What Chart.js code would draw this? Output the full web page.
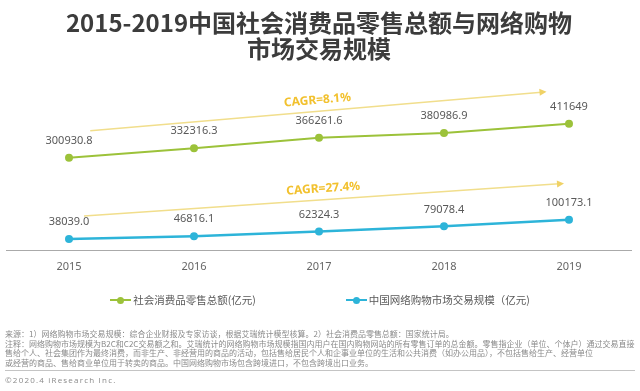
<!DOCTYPE html>
<html>
<head>
<meta charset="utf-8">
<script src="https://cdn.jsdelivr.net/npm/chart.js@4.4.1/dist/chart.umd.min.js"></script>
<style>
  body { margin: 0; background: #fff; font-family: "Noto Sans CJK SC", sans-serif; }
  #wrap { position: relative; width: 640px; height: 391px; overflow: hidden; }
  #wrap canvas { position: absolute; left: 0; top: 0; }
  #legend { position: absolute; left: 0; top: 292px; width: 640px; display: flex; justify-content: center; gap: 90px; font-size: 10.5px; line-height: 16px; color: #595959; }
  #legend .item { display: flex; align-items: center; white-space: nowrap; }
  #legend .mk { position: relative; display: inline-block; width: 21px; height: 2px; margin-right: 2px; }
  #legend .mk::after { content: ""; position: absolute; left: 7px; top: -2.5px; width: 7px; height: 7px; border-radius: 50%; background: inherit; }
  #notes { position: absolute; left: 5px; top: 329.3px; font-size: 8px; line-height: 9.4px; color: #8a8a8a; white-space: nowrap; }
  #rule { position: absolute; left: 5px; top: 370px; width: 630px; border-top: 1px solid #c4c4c4; }
  #copy { position: absolute; left: 5px; top: 374px; font-size: 8px; line-height: 11px; letter-spacing: 1.2px; color: #8a8a8a; font-family: "Open Sans", sans-serif; }
</style>
</head>
<body>
<div id="wrap">
  <canvas id="chart" width="640" height="391"></canvas>
  <div id="legend"></div>
  <div id="notes">
    <div>来源：1）网络购物市场交易规模：综合企业财报及专家访谈，根据艾瑞统计模型核算。2）社会消费品零售总额：国家统计局。</div>
    <div>注释：网络购物市场规模为B2C和C2C交易额之和。艾瑞统计的网络购物市场规模指国内用户在国内购物网站的所有零售订单的总金额。零售指企业（单位、个体户）通过交易直接</div>
    <div>售给个人、社会集团作为最终消费，而非生产、非经营用的商品的活动，包括售给居民个人和企事业单位的生活和公共消费（如办公用品），不包括售给生产、经营单位</div>
    <div>或经营的商品、售给商业单位用于转卖的商品。中国网络购物市场包含跨境进口，不包含跨境出口业务。</div>
  </div>
  <div id="rule"></div>
  <div id="copy">©2020.4 iResearch Inc.</div>
</div>
<script>
const years = ['2015', '2016', '2017', '2018', '2019'];
// values kept as printed on the chart
const retailSales = ['300930.8', '332316.3', '366261.6', '380986.9', '411649'];
const onlineShopping = ['38039.0', '46816.1', '62324.3', '79078.4', '100173.1'];
const seriesNames = ['社会消费品零售总额(亿元)', '中国网络购物市场交易规模（亿元)'];
const cagrText = ['CAGR=8.1%', 'CAGR=27.4%'];

const green = '#9cc23a';
const blue = '#2db4d9';

// value labels above each point
const pointLabels = {
  id: 'pointLabels',
  afterDatasetsDraw(chart) {
    const ctx = chart.ctx;
    ctx.save();
    ctx.font = '11px "Noto Sans", sans-serif';
    ctx.fillStyle = '#595959';
    ctx.textAlign = 'center';
    ctx.textBaseline = 'middle';
    chart.data.datasets.forEach((ds, i) => {
      chart.getDatasetMeta(i).data.forEach((pt, j) => {
        ctx.fillText(ds.data[j], pt.x, pt.y - 17);
      });
    });
    ctx.restore();
  }
};

// CAGR trend arrows, placed in data space
const cagrArrows = {
  id: 'cagrArrows',
  beforeDatasetsDraw(chart, args, opts) {
    const ctx = chart.ctx;
    const xs = chart.scales.x, ys = chart.scales.y;
    opts.arrows.forEach((a, i) => {
      const x1 = xs.getPixelForValue(a.from[0]), y1 = ys.getPixelForValue(a.from[1]);
      const x2 = xs.getPixelForValue(a.to[0]), y2 = ys.getPixelForValue(a.to[1]);
      const ang = Math.atan2(y2 - y1, x2 - x1);
      ctx.save();
      ctx.strokeStyle = '#f1de8c';
      ctx.lineWidth = 1.5;
      ctx.beginPath();
      ctx.moveTo(x1, y1);
      ctx.lineTo(x2 - 5 * Math.cos(ang), y2 - 5 * Math.sin(ang));
      ctx.stroke();
      ctx.translate(x2, y2);
      ctx.rotate(ang);
      ctx.fillStyle = '#f0d266';
      ctx.beginPath();
      ctx.moveTo(0, 0);
      ctx.lineTo(-7, -3.5);
      ctx.lineTo(-7, 3.5);
      ctx.closePath();
      ctx.fill();
      ctx.restore();

      ctx.save();
      ctx.translate(x1 + (x2 - x1) * 0.5, y1 + (y2 - y1) * 0.5);
      ctx.rotate(ang);
      ctx.font = 'bold 12px "Noto Sans", sans-serif';
      ctx.fillStyle = '#f2c12e';
      ctx.textAlign = 'center';
      ctx.textBaseline = 'middle';
      ctx.fillText(cagrText[i], 0, -11);
      ctx.restore();
    });
  }
};

const chart = new Chart(document.getElementById('chart'), {
  type: 'line',
  data: {
    labels: years,
    datasets: [{
      label: seriesNames[0],
      data: retailSales,
      borderColor: green,
      backgroundColor: green,
      borderWidth: 2,
      pointRadius: 4,
      pointBorderWidth: 0
    }, {
      label: seriesNames[1],
      data: onlineShopping,
      borderColor: blue,
      backgroundColor: blue,
      borderWidth: 2.5,
      pointRadius: 4,
      pointBorderWidth: 0
    }]
  },
  options: {
    responsive: false,
    animation: false,
    layout: { padding: { left: 6.5, right: 8.5, top: 0, bottom: 109 } },
    scales: {
      x: {
        offset: true,
        grid: { display: false, drawTicks: false },
        border: { display: true, color: '#aaaaaa', width: 1 },
        ticks: { padding: 9, color: '#666', font: { size: 11, family: '"Noto Sans", sans-serif' } }
      },
      y: { display: false, min: 0, max: 540000 }
    },
    plugins: {
      legend: { display: false },
      tooltip: { enabled: false },
      title: {
        display: true,
        text: ['2015-2019中国社会消费品零售总额与网络购物', '市场交易规模'],
        color: '#3c3c3c',
        font: { size: 24, weight: 'bold', family: '"Noto Sans CJK SC", sans-serif', lineHeight: 1.1 },
        padding: { top: 9.3, bottom: 21.9 }
      },
      cagrArrows: {
        arrows: [
          { from: [0.17, 389000], to: [3.82, 515000] },
          { from: [0.12, 112700], to: [3.96, 218000] }
        ]
      }
    }
  },
  plugins: [pointLabels, cagrArrows]
});

// html legend built from the datasets
const legendBox = document.getElementById('legend');
chart.data.datasets.forEach(ds => {
  const item = document.createElement('span');
  item.className = 'item';
  const mk = document.createElement('i');
  mk.className = 'mk';
  mk.style.background = ds.borderColor;
  item.appendChild(mk);
  item.appendChild(document.createTextNode(ds.label));
  legendBox.appendChild(item);
});
</script>
</body>
</html>
